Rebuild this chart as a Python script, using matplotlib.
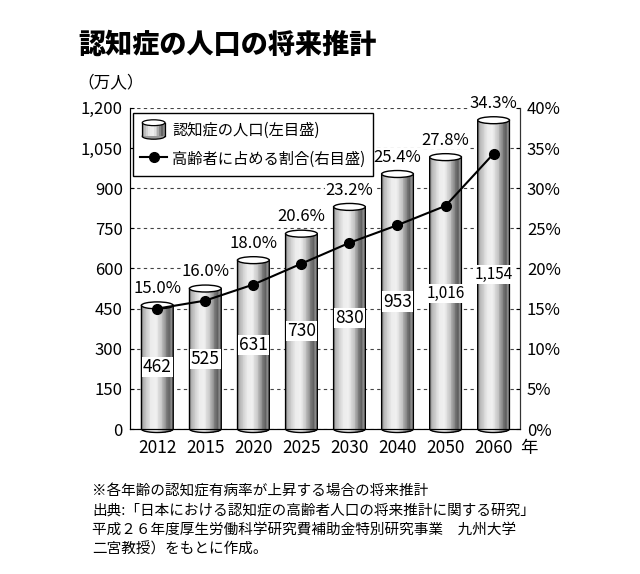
import numpy as np
import matplotlib
matplotlib.use('Agg')
import matplotlib.pyplot as plt
from matplotlib.patches import Ellipse, Polygon, Rectangle
from matplotlib.legend_handler import HandlerBase
from matplotlib.lines import Line2D
from matplotlib.colors import LinearSegmentedColormap

plt.rcParams['font.family'] = ['Noto Sans CJK JP', 'DejaVu Sans']

# データ
years = ['2012', '2015', '2020', '2025', '2030', '2040', '2050', '2060']
patients = [462, 525, 631, 730, 830, 953, 1016, 1154]   # 万人
ratio = [15.0, 16.0, 18.0, 20.6, 23.2, 25.4, 27.8, 34.3]  # %
left_ticks = list(range(0, 1201, 150))
right_ticks = list(range(0, 41, 5))

title = '認知症の人口の将来推計'
notes = [
    '※各年齢の認知症有病率が上昇する場合の将来推計',
    '出典:「日本における認知症の高齢者人口の将来推計に関する研究」',
    '平成２６年度厚生労働科学研究費補助金特別研究事業　九州大学',
    '二宮教授）をもとに作成。',
]

# 円柱の陰影
shade = LinearSegmentedColormap.from_list('cyl', [
    (0.0, '#8c8c8c'), (0.12, '#bdbdbd'), (0.32, '#ececec'), (0.48, '#f0f0f0'),
    (0.66, '#c4c4c4'), (0.82, '#7a7a7a'), (0.90, '#5e5e5e'), (1.0, '#a0a0a0')])

fig = plt.figure(figsize=(6.4, 5.74), dpi=100)
ax = fig.add_axes([0.203, 0.2526, 0.6095, 0.5594])

x = np.arange(len(years))
bar_w = 0.66
eh = 26.0  # 楕円の高さ（データ単位）


def draw_cylinder(ax, xc, top, w, eh, n=40):
    xs = np.linspace(xc - w / 2, xc + w / 2, n + 1)
    def bottom(xx):
        u = np.clip((xx - xc) / (w / 2), -1, 1)
        return -eh / 2 * np.sqrt(1 - u ** 2)
    for j in range(n):
        x0, x1 = xs[j], xs[j + 1] + (xs[1] - xs[0]) * 0.3
        x1 = min(x1, xs[-1])
        poly = Polygon([(x0, top), (x0, bottom(x0)), (x1, bottom(x1)), (x1, top)],
                       closed=True, facecolor=shade((j + 0.5) / n), edgecolor='none',
                       lw=0, antialiased=False, zorder=2, clip_on=False)
        ax.add_patch(poly)
    t = np.linspace(np.pi, 2 * np.pi, 60)
    ox = np.concatenate([[xc - w / 2], xc + w / 2 * np.cos(t), [xc + w / 2]])
    oy = np.concatenate([[top], eh / 2 * np.sin(t), [top]])
    ax.plot(ox, oy, color='black', lw=1.0, zorder=3, clip_on=False)
    ax.add_patch(Ellipse((xc, top), w, eh, facecolor='white', edgecolor='black',
                         lw=1.0, zorder=4, clip_on=False))


for xi, v in zip(x, patients):
    draw_cylinder(ax, xi, v, bar_w, eh)
    fs = 12.5 if v < 1000 else 11
    ax.text(xi, v / 2, f'{v:,}', ha='center', va='center', fontsize=fs, zorder=6,
            bbox=dict(facecolor='white', edgecolor='none', pad=0.8))

for xi, v, r in zip(x, patients, ratio):
    ax.annotate(f'{r:.1f}%', (xi, v), xytext=(0, 6), textcoords='offset points',
                ha='center', va='bottom', fontsize=12, zorder=6,
                bbox=dict(facecolor='white', edgecolor='none', pad=0.5))

ax.set_xlim(-0.57, len(years) - 0.45)
ax.set_ylim(0, 1200)
ax.set_xticks(x)
ax.set_xticklabels(years, fontsize=12.5)
ax.set_yticks(left_ticks)
ax.set_yticklabels([f'{v:,}' for v in left_ticks], fontsize=12)
ax.tick_params(axis='x', length=0, pad=7)
ax.tick_params(axis='y', direction='in', length=3, pad=5)
ax.yaxis.grid(True, linestyle=(0, (3, 3)), color='#444444', lw=0.8)
ax.set_axisbelow(True)
ax.spines['top'].set_visible(False)
for s in ['left', 'bottom', 'right']:
    ax.spines[s].set_color('#333333')

ax2 = ax.twinx()
ax2.plot(x, ratio, color='black', lw=1.5, marker='o', ms=7, zorder=5)
ax2.set_ylim(0, 40)
ax2.set_yticks(right_ticks)
ax2.set_yticklabels([f'{v}%' for v in right_ticks], fontsize=12)
ax2.tick_params(axis='y', direction='in', length=3, pad=5)
ax2.spines['top'].set_visible(False)
ax2.spines['right'].set_color('#333333')


class CylHandler(HandlerBase):
    def create_artists(self, legend, orig, xd, yd, width, height, fontsize, trans):
        x0, y0 = -xd, -yd
        w = width * 0.85
        x0 = x0 + (width - w) / 2
        h = height * 1.1
        y0 = y0 - (h - height) / 2
        e = h * 0.3
        arts = [Ellipse((x0 + w / 2, y0 + e / 2), w, e, facecolor='#9a9a9a',
                        edgecolor='black', lw=0.9, transform=trans)]
        n = 12
        for j in range(n):
            arts.append(Rectangle((x0 + w * j / n, y0 + e / 2), w / n * 1.05, h - e,
                                  facecolor=shade((j + 0.5) / n), edgecolor='none',
                                  lw=0, transform=trans))
        arts.append(Line2D([x0, x0], [y0 + e / 2, y0 + h - e / 2], color='black', lw=0.9, transform=trans))
        arts.append(Line2D([x0 + w, x0 + w], [y0 + e / 2, y0 + h - e / 2], color='black', lw=0.9, transform=trans))
        arts.append(Ellipse((x0 + w / 2, y0 + h - e / 2), w, e, facecolor='white',
                            edgecolor='black', lw=0.9, transform=trans))
        return arts


cyl_handle = Rectangle((0, 0), 1, 1)
line_handle = Line2D([], [], color='black', lw=1.5, marker='o', ms=7)
leg = ax2.legend([cyl_handle, line_handle],
                 ['認知症の人口(左目盛)', '高齢者に占める割合(右目盛)'],
                 handler_map={Rectangle: CylHandler()},
                 loc='upper left', bbox_to_anchor=(0.007, 0.984), fontsize=11,
                 frameon=True, fancybox=False, framealpha=1, edgecolor='black',
                 handlelength=1.75, handleheight=1.4, handletextpad=0.35,
                 borderpad=0.5, labelspacing=0.75, borderaxespad=0)
leg.get_frame().set_linewidth(1.0)

ax.text(1.023, -0.06, '年', transform=ax.transAxes, ha='center', va='center', fontsize=12.5)

fig.text(78 / 640, 1 - 45 / 574, title, fontsize=19.5, fontweight='black', va='center', ha='left')
fig.text(77 / 640, 1 - 83 / 574, '（万人）', fontsize=12, va='center', ha='left')

for i, line in enumerate(notes):
    fig.text(92 / 640, 1 - (492 + 19 * i) / 574, line, fontsize=10.5, va='center', ha='left')

fig.savefig('out.png', dpi=100)
